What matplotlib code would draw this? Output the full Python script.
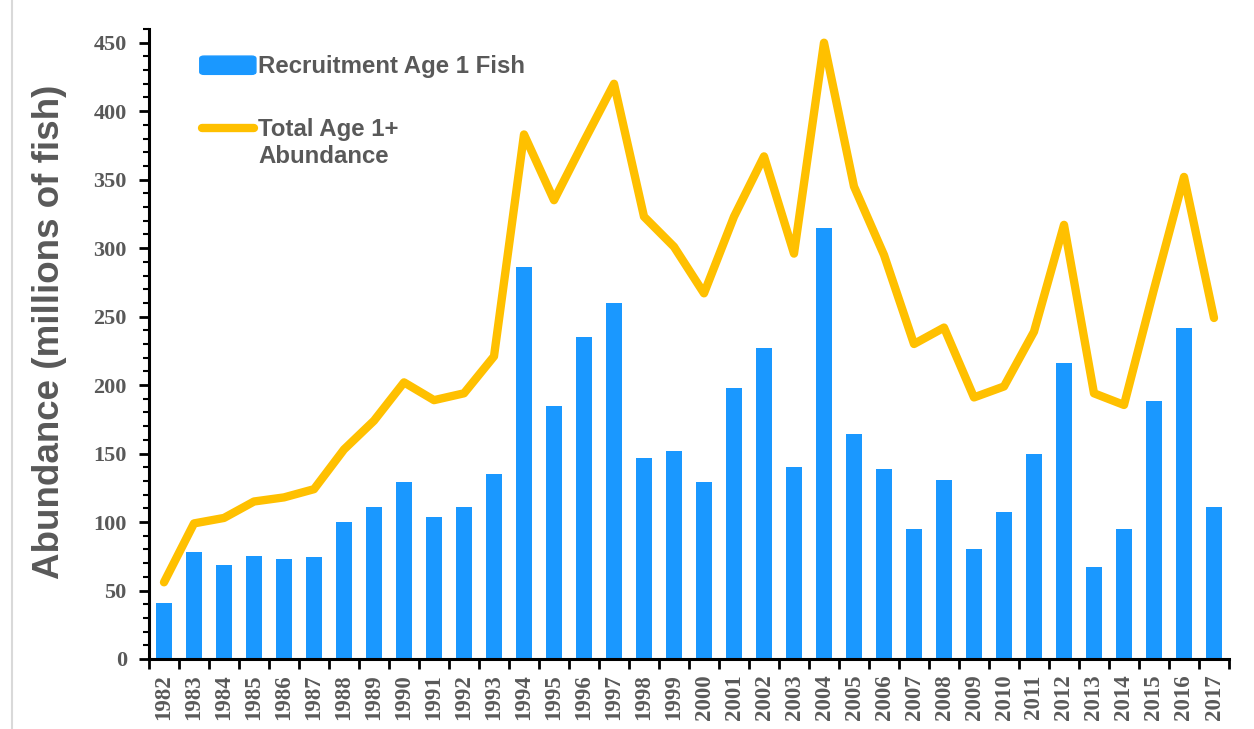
import numpy as np
import matplotlib.pyplot as plt
from matplotlib.patches import FancyBboxPatch
from matplotlib.lines import Line2D
from matplotlib.ticker import MultipleLocator, FixedLocator

years = list(range(1982, 2018))
recruitment = [41, 78, 68.5, 75, 73, 74.5, 100, 111, 129, 103.5, 111, 135,
               286, 185, 235, 260, 147, 152, 129, 198, 227, 140,
               315, 164, 139, 95, 131, 80, 107, 150, 216, 67, 95, 188.5, 242, 111]
total = [56, 99, 103, 115, 118, 124, 153, 174, 202, 189, 194, 221,
         383, 335, 378, 420, 323, 301, 267, 323, 367, 296,
         450, 345, 295, 230, 242, 191, 199, 239, 317, 194, 185.5, 270, 352, 249]

blue = '#1A98FF'
gold = '#FFC000'
grey = '#595959'

fig = plt.figure(figsize=(12.54, 7.29), dpi=100)
ax = fig.add_axes([149/1254, 70/729, 1080/1254, 630/729])

x = np.arange(len(years))
ax.bar(x, recruitment, width=0.55, color=blue, zorder=2)
ax.plot(x, total, color=gold, lw=6, solid_capstyle='round', solid_joinstyle='round', zorder=3)

ax.set_xlim(-0.5, len(years) - 0.5)
ax.set_ylim(0, 460)

for s in ['top', 'right']:
    ax.spines[s].set_visible(False)
for s in ['left', 'bottom']:
    ax.spines[s].set_linewidth(2.2)

ax.yaxis.set_major_locator(FixedLocator(np.arange(0, 451, 50)))
ax.yaxis.set_minor_locator(MultipleLocator(10))
ax.tick_params(axis='y', which='major', direction='out', length=7, width=2, pad=9)
ax.tick_params(axis='y', which='minor', direction='out', length=4, width=1.5)
for lab in ax.get_yticklabels():
    lab.set_fontfamily('Liberation Serif')
    lab.set_fontweight('bold')
    lab.set_fontsize(16)
    lab.set_color(grey)

ax.set_xticks(x)
ax.set_xticklabels([str(y) for y in years], rotation=90, fontfamily='Liberation Serif',
                   fontweight='bold', fontsize=16.5, color=grey)
ax.xaxis.set_minor_locator(FixedLocator(np.arange(-0.5, len(years), 1)))
ax.tick_params(axis='x', which='major', length=0, pad=11)
ax.tick_params(axis='x', which='minor', direction='out', length=7, width=2)

ax.set_ylabel('Abundance (millions of fish)', fontfamily='Liberation Sans', fontweight='bold',
              fontsize=26.5, color=grey)
ax.yaxis.set_label_coords(-0.076, 0.519)

# legend drawn by hand so the two-line label lines up like the original
ax.add_patch(FancyBboxPatch((0.047, 0.928), 0.052, 0.029, boxstyle='round,pad=0,rounding_size=0.004',
                            transform=ax.transAxes, color=blue, clip_on=False))
ax.text(0.101, 0.941, 'Recruitment Age 1 Fish', transform=ax.transAxes, va='center', ha='left',
        fontfamily='Liberation Sans', fontweight='bold', fontsize=17.3, color=grey)
ax.add_line(Line2D([0.049, 0.097], [0.843, 0.843], transform=ax.transAxes, color=gold, lw=6,
                   solid_capstyle='round'))
ax.text(0.101, 0.858, 'Total Age 1+\nAbundance', transform=ax.transAxes, va='top', ha='left',
        fontfamily='Liberation Sans', fontweight='bold', fontsize=17.3, color=grey, linespacing=1.2)

fig.add_artist(Line2D([12/1254, 12/1254], [0, 1], color='#d9d9d9', lw=1.5))

fig.savefig('out.png', dpi=100)
